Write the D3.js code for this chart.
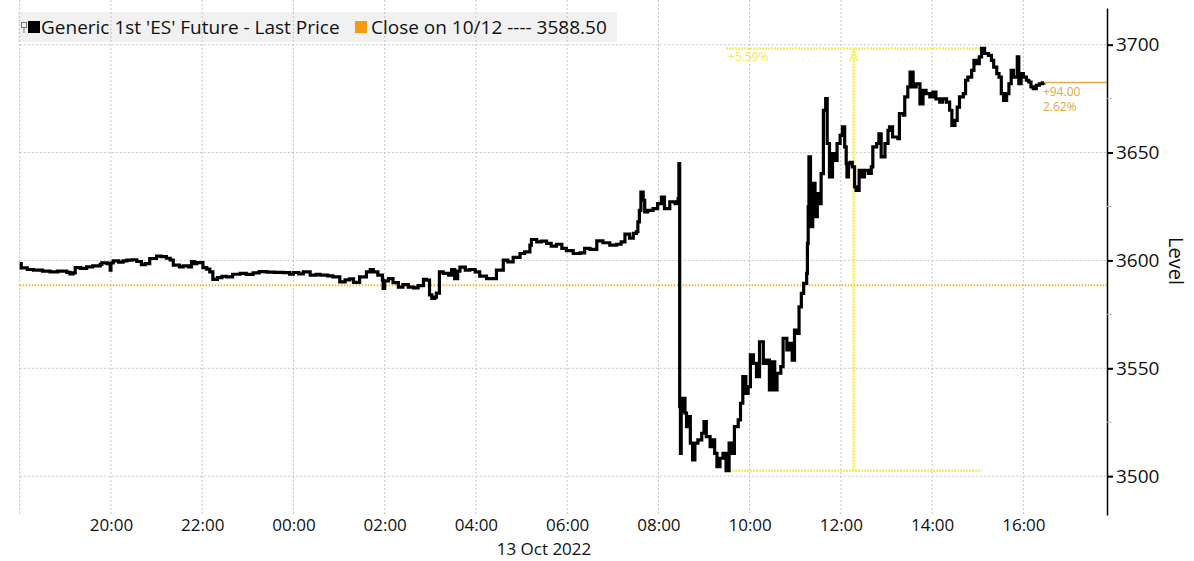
<!DOCTYPE html>
<html><head><meta charset="utf-8">
<script src="https://cdn.jsdelivr.net/npm/d3@7"></script>
<style>
html,body{margin:0;padding:0;background:#fff;}
svg{display:block;font-family:"Open Sans",sans-serif;}
</style></head>
<body><svg id="chart" width="1194" height="561"></svg>
<script>
// ---- data ----
const times = ["18:00","18:02","18:10","18:18","18:30","18:40","18:50","19:02","19:06","19:10","19:13","19:20","19:28","19:36","19:46","19:48","19:55","19:59","20:00","20:03","20:10","20:16","20:21","20:28","20:34","20:40","20:45","20:51","21:00","21:06","21:13","21:18","21:22","21:30","21:35","21:42","21:46","21:50","21:53","22:01","22:06","22:10","22:14","22:20","22:26","22:32","22:40","22:50","22:58","23:07","23:15","23:25","23:35","23:47","23:55","00:00","00:07","00:13","00:22","00:30","00:35","00:45","00:52","01:01","01:08","01:14","01:19","01:27","01:36","01:41","01:45","01:51","01:57","01:58","02:00","02:05","02:11","02:18","02:24","02:31","02:38","02:44","02:51","02:55","02:59","03:02","03:06","03:08","03:12","03:17","03:24","03:28","03:32","03:36","03:39","03:46","03:52","03:59","04:05","04:14","04:23","04:27","04:36","04:42","04:49","04:58","05:04","05:11","05:13","05:20","05:26","05:33","05:39","05:46","05:53","05:59","06:08","06:17","06:23","06:30","06:39","06:47","06:56","07:05","07:11","07:16","07:22","07:27","07:31","07:33","07:35","07:37","07:40","07:42","07:46","07:53","07:59","08:04","08:08","08:15","08:22","08:26","08:27","08:28","08:29","08:30","08:32","08:35","08:37","08:39","08:42","08:45","08:48","08:52","08:57","09:00","09:03","09:08","09:11","09:14","09:17","09:21","09:25","09:29","09:33","09:36","09:40","09:45","09:48","09:51","09:55","09:58","10:01","10:05","10:09","10:13","10:18","10:22","10:26","10:30","10:33","10:36","10:41","10:44","10:49","10:53","10:56","10:59","11:02","11:05","11:08","11:11","11:15","11:16","11:17","11:18","11:20","11:23","11:26","11:29","11:31","11:34","11:37","11:40","11:42","11:45","11:49","11:52","11:55","11:59","12:02","12:05","12:07","12:08","12:10","12:12","12:15","12:18","12:20","12:24","12:27","12:31","12:36","12:40","12:42","12:47","12:50","12:53","12:58","13:02","13:04","13:08","13:15","13:17","13:22","13:24","13:28","13:31","13:35","13:39","13:44","13:48","13:52","13:57","14:01","14:05","14:10","14:14","14:19","14:23","14:26","14:30","14:33","14:36","14:41","14:44","14:47","14:52","14:55","14:58","15:02","15:05","15:09","15:14","15:18","15:21","15:25","15:28","15:31","15:34","15:38","15:41","15:44","15:47","15:52","15:54","15:57","16:00","16:04","16:07","16:10","16:13","16:17","16:21","16:25","16:27"];
const prices = [3598.5,3596.5,3595.8,3595.5,3595.0,3594.7,3595.0,3594.5,3593.7,3594.2,3596.7,3596.3,3597.0,3597.5,3598.2,3598.9,3598.5,3595.5,3598.8,3599.8,3599.2,3599.8,3600.1,3600.3,3599.5,3598.0,3598.5,3600.9,3602.0,3601.8,3601.0,3600.2,3597.8,3597.0,3597.5,3597.0,3599.4,3598.5,3599.0,3596.7,3596.0,3594.7,3591.2,3592.0,3592.6,3592.4,3593.6,3594.0,3593.5,3594.2,3594.8,3594.6,3594.5,3594.3,3593.6,3594.4,3593.8,3594.7,3593.2,3593.6,3593.2,3592.8,3592.4,3590.1,3591.0,3591.5,3589.8,3592.4,3594.7,3595.8,3594.7,3593.2,3590.9,3587.0,3590.5,3591.6,3589.7,3587.6,3588.8,3587.6,3587.3,3588.3,3591.2,3590.9,3584.0,3582.4,3583.0,3584.8,3594.7,3594.0,3593.2,3595.8,3591.6,3595.0,3596.9,3595.5,3595.8,3594.7,3592.7,3591.6,3591.6,3595.5,3600.1,3599.3,3601.4,3603.2,3604.0,3607.1,3609.7,3608.6,3608.9,3607.9,3606.6,3607.5,3605.6,3604.5,3603.2,3603.5,3605.6,3605.1,3609.1,3608.2,3607.1,3607.5,3608.6,3612.2,3610.3,3612.5,3613.3,3617.9,3623.2,3631.7,3627.9,3622.5,3623.2,3624.0,3626.3,3629.4,3624.0,3627.1,3626.3,3628.6,3644.9,3532.2,3510.6,3530.0,3536.1,3529.2,3523.0,3527.6,3515.3,3507.5,3515.3,3516.8,3519.9,3525.3,3518.3,3513.7,3516.8,3510.6,3504.4,3508.3,3510.6,3502.5,3515.3,3510.6,3523.0,3526.1,3533.8,3546.1,3538.4,3541.5,3556.2,3552.3,3546.1,3562.3,3552.3,3553.8,3540.0,3553.0,3540.0,3547.7,3550.8,3563.9,3558.5,3561.6,3553.8,3567.7,3566.2,3578.5,3584.7,3589.4,3594.0,3607.9,3624.8,3648.0,3615.6,3635.7,3620.3,3631.0,3626.3,3640.2,3669.6,3675.0,3654.2,3638.7,3649.5,3646.4,3654.2,3658.0,3661.9,3652.6,3644.9,3638.7,3644.9,3645.5,3643.4,3634.1,3632.5,3641.8,3638.7,3641.8,3640.3,3643.4,3652.6,3654.2,3658.7,3648.0,3654.2,3660.3,3661.9,3657.2,3656.4,3668.1,3667.3,3675.8,3680.4,3687.3,3680.4,3681.9,3672.6,3678.8,3677.3,3675.8,3678.0,3674.9,3673.4,3674.9,3673.4,3669.6,3662.6,3664.9,3671.1,3675.8,3677.3,3683.5,3685.0,3688.1,3692.7,3691.2,3694.3,3698.25,3695.9,3695.0,3692.7,3689.6,3686.6,3685.0,3677.3,3674.2,3677.3,3681.9,3688.1,3685.0,3694.3,3681.9,3686.6,3685.0,3683.5,3682.7,3680.4,3679.6,3681.2,3681.9,3682.3,3682.5];
const prevClose = 3588.5;
const seriesName = "Generic 1st 'ES' Future - Last Price";
const closeName = "Close on 10/12";
const yTicks = [3500, 3550, 3600, 3650, 3700];
const yMinorTicks = [3525, 3575, 3625, 3675];
const xGridTimes = ["18:00","20:00","22:00","00:00","02:00","04:00","06:00","08:00","10:00","12:00","14:00","16:00"];
const xTickLabels = ["20:00","22:00","00:00","02:00","04:00","06:00","08:00","10:00","12:00","14:00","16:00"];
const dateLabel = "13 Oct 2022";
const axisTitle = "Level";
const xDomain = ["18:00", "17:50"];
const yDomain = [3482, 3717];

// ---- helpers ----
function parseT(s) {
  const [h, m] = s.split(":").map(Number);
  return new Date(2022, 9, h >= 18 ? 12 : 13, h, m);
}
const data = times.map((t, i) => ({ t: parseT(t), v: prices[i] }));

const svg = d3.select("#chart");
const plotL = 19.7, plotR = 1107, plotT = 8, plotB = 515;

const x = d3.scaleTime().domain([parseT(xDomain[0]), parseT(xDomain[1])]).range([plotL, plotR]);
const y = d3.scaleLinear().domain(yDomain).range([plotB, plotT]);

// legend background
svg.append("rect").attr("x", 18).attr("y", 12).attr("width", 599).attr("height", 30).attr("fill", "#f1f1f1");

// gridlines
const grid = svg.append("g").attr("stroke", "#c4c4c4").attr("stroke-width", 1).attr("stroke-dasharray", "2,2");
grid.selectAll("line.h").data(yTicks).join("line")
  .attr("x1", plotL).attr("x2", plotR).attr("y1", d => y(d)).attr("y2", d => y(d));
grid.selectAll("line.v").data(xGridTimes).join("line")
  .attr("x1", d => x(parseT(d))).attr("x2", d => x(parseT(d))).attr("y1", 0).attr("y2", plotB);

// previous close dotted line
svg.append("line").attr("x1", plotL).attr("x2", plotR).attr("y1", y(prevClose)).attr("y2", y(prevClose))
  .attr("stroke", "#f2b632").attr("stroke-width", 2).attr("stroke-dasharray", "1.5,1.5");

// high/low range annotation (after the drop)
const lowPt = data.reduce((a, b) => b.v < a.v ? b : a);
const after = data.filter(d => d.t >= lowPt.t);
const highPt = after.reduce((a, b) => b.v > a.v ? b : a);
const yel = "#f5ee5c";
const ann = svg.append("g").attr("stroke", yel).attr("fill", "none").attr("stroke-dasharray", "2,1");
ann.append("line").attr("x1", x(lowPt.t)).attr("x2", x(highPt.t)).attr("y1", y(highPt.v)).attr("y2", y(highPt.v)).attr("stroke-width", 2.5);
ann.append("line").attr("x1", x(lowPt.t)).attr("x2", x(highPt.t)).attr("y1", y(lowPt.v)).attr("y2", y(lowPt.v)).attr("stroke-width", 2.5);
const midX = (x(lowPt.t) + x(highPt.t)) / 2;
ann.append("line").attr("x1", midX).attr("x2", midX).attr("y1", y(highPt.v)).attr("y2", y(lowPt.v)).attr("stroke-width", 3);
ann.append("path").attr("d", `M${midX - 4},${y(highPt.v) + 13} L${midX},${y(highPt.v) + 2} L${midX + 4},${y(highPt.v) + 13}`)
  .attr("stroke-width", 2).attr("stroke-dasharray", null);
svg.append("text").attr("x", x(lowPt.t) + 2).attr("y", y(highPt.v) + 13)
  .attr("fill", "#f2e75a").attr("font-size", 12)
  .text(d3.format("+.2%")((highPt.v - lowPt.v) / lowPt.v));

// price line
svg.append("path").datum(data)
  .attr("fill", "none").attr("stroke", "#000").attr("stroke-width", 3.2)
  .attr("d", d3.line().x(d => x(d.t)).y(d => y(d.v)).curve(d3.curveStepAfter));

// last value marker
const last = data[data.length - 1];
svg.append("line").attr("x1", x(last.t)).attr("x2", plotR).attr("y1", y(last.v)).attr("y2", y(last.v))
  .attr("stroke", "#e3ad4a").attr("stroke-width", 1.5);
svg.append("text").attr("x", x(last.t) - 1).attr("y", y(last.v) + 14).attr("fill", "#e3a843").attr("font-size", 12)
  .text(d3.format("+.2f")(last.v - prevClose));
svg.append("text").attr("x", x(last.t) - 1).attr("y", y(last.v) + 29).attr("fill", "#e3a843").attr("font-size", 12)
  .text(d3.format(".2%")((last.v - prevClose) / prevClose));

// y axis (right)
const yAxis = svg.append("g").attr("transform", `translate(${plotR},0)`)
  .call(d3.axisRight(y).tickValues(yTicks).tickSize(6).tickSizeOuter(0).tickPadding(3).tickFormat(d3.format("d")));
yAxis.select(".domain").attr("stroke", "#000").attr("stroke-width", 1.5);
yAxis.selectAll(".tick line").attr("stroke", "#000").attr("stroke-width", 2);
yAxis.selectAll(".tick text").attr("font-size", 19).attr("font-family", "Open Sans, sans-serif").attr("fill", "#111");
svg.append("g").selectAll("line").data(yMinorTicks).join("line")
  .attr("x1", plotR).attr("x2", plotR + 5).attr("y1", d => y(d)).attr("y2", d => y(d))
  .attr("stroke", "#bbb").attr("stroke-width", 1);
svg.append("text").attr("transform", `translate(1169,261) rotate(90)`)
  .attr("text-anchor", "middle").attr("font-size", 20).attr("fill", "#111").text(axisTitle);

// x axis
const xAxis = svg.append("g").attr("transform", `translate(0,${plotB})`)
  .call(d3.axisBottom(x).tickValues(xTickLabels.map(parseT)).tickSize(0).tickPadding(4).tickFormat(d3.timeFormat("%H:%M")));
xAxis.select(".domain").remove();
xAxis.selectAll(".tick text").attr("font-size", 17).attr("font-family", "Open Sans, sans-serif").attr("fill", "#111");
svg.append("text").attr("x", 544).attr("y", 555).attr("text-anchor", "middle")
  .attr("font-size", 17).attr("fill", "#111").text(dateLabel);

// legend
const lg = svg.append("g");
lg.append("rect").attr("x", 21.5).attr("y", 22.5).attr("width", 5).attr("height", 5).attr("fill", "none").attr("stroke", "#777");
lg.append("line").attr("x1", 24).attr("x2", 24).attr("y1", 28).attr("y2", 33).attr("stroke", "#777");
lg.append("rect").attr("x", 28).attr("y", 21).attr("width", 12).attr("height", 12).attr("fill", "#000");
lg.append("text").attr("x", 41).attr("y", 34).attr("font-size", 19).attr("fill", "#111").text(seriesName);
lg.append("rect").attr("x", 355).attr("y", 21).attr("width", 12).attr("height", 12).attr("fill", "#f39c12");
lg.append("text").attr("x", 371).attr("y", 34).attr("font-size", 19).attr("fill", "#111")
  .text(`${closeName} ---- ${d3.format(".2f")(prevClose)}`);
</script>
</body></html>
